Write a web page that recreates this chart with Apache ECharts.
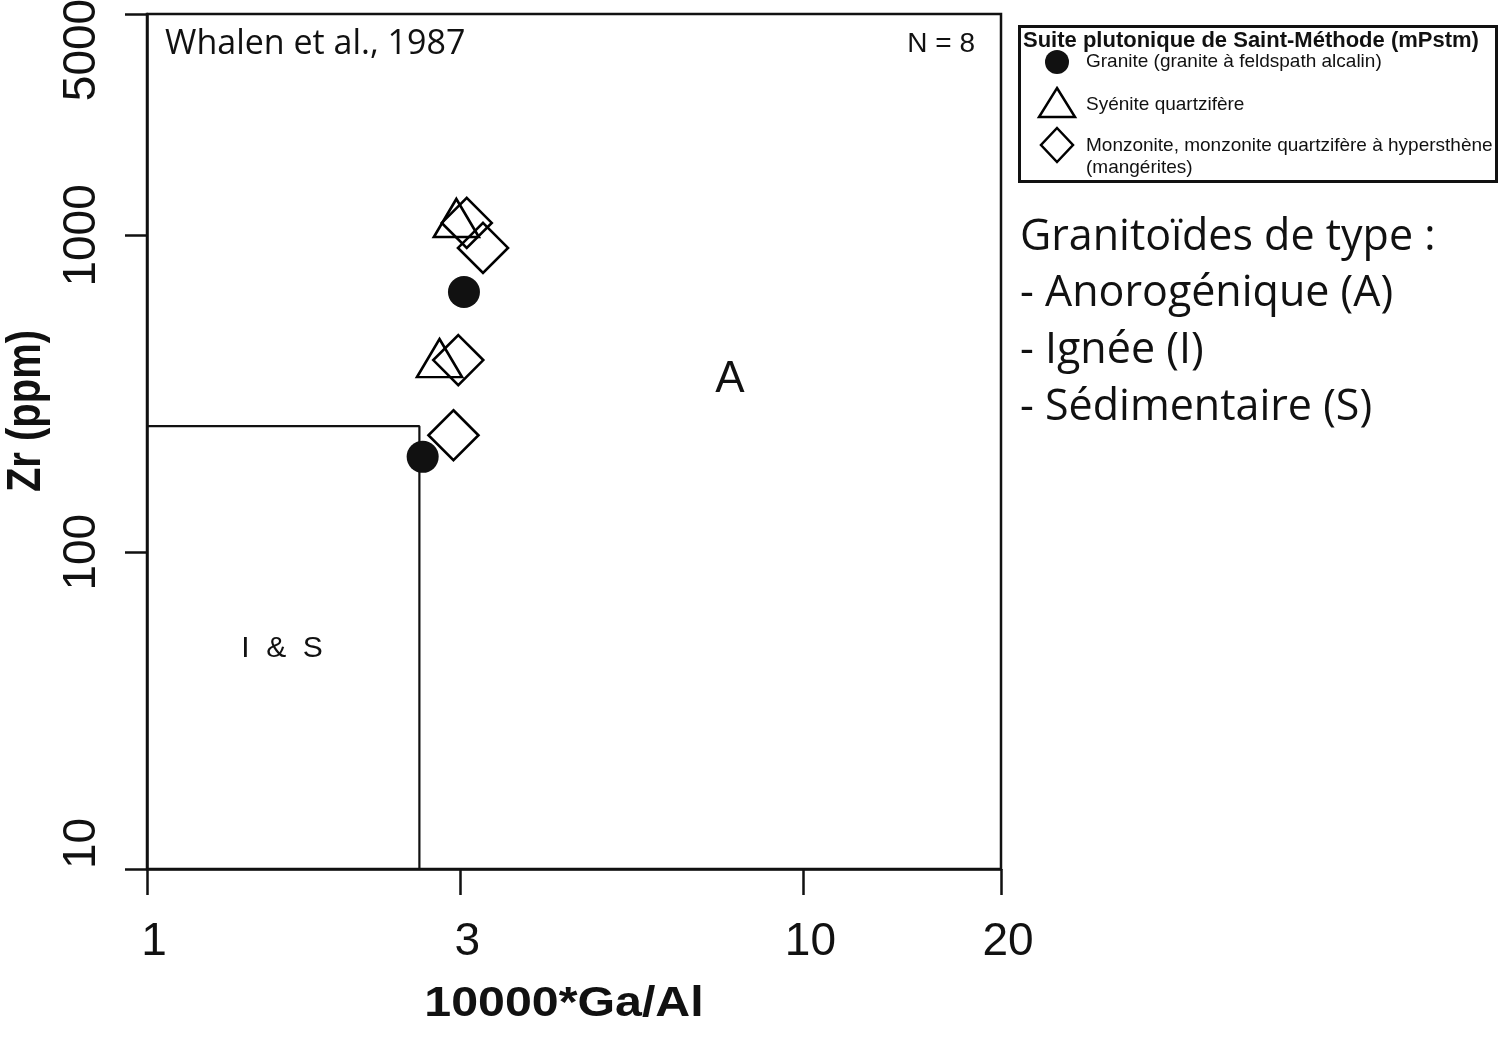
<!DOCTYPE html>
<html>
<head>
<meta charset="utf-8">
<script src="https://cdn.jsdelivr.net/npm/echarts@6/dist/echarts.min.js"></script>
<style>
  html, body { margin: 0; padding: 0; background: #fff; }
  #chart { width: 1499px; height: 1037px; }
</style>
</head>
<body>
<div id="chart"></div>
<script>
// tick values on the two log axes
const xTicks = [1, 3, 10, 20];
const yTicks = [10, 100, 1000, 5000];

// samples : [10000*Ga/Al, Zr (ppm)]
const granite = [[3.04, 663], [2.63, 200]];
const syenite = [[2.96, 1135], [2.79, 410]];
const monzonite = [[3.07, 1095], [3.25, 913], [2.98, 404], [2.93, 234]];

// limite I & S / A (Whalen et al., 1987)
const boundary = [[1, 250], [2.6, 250], [2.6, 10]];

const ARIAL = '"Liberation Sans", Arial, sans-serif';
const MYRIAD = '"Open Sans", "Noto Sans", sans-serif';

let myChart = echarts.init(document.getElementById('chart'));

let option = {
    animation: false,
    backgroundColor: '#fff',
    grid: {
        left: 147,
        top: 14,
        width: 854,
        height: 855,
        outerBoundsMode: 'none',
        containLabel: false,
        show: true,
        borderColor: '#111',
        borderWidth: 2.5,
        backgroundColor: 'transparent'
    },
    xAxis: {
        type: 'log',
        logBase: 10,
        min: 1,
        max: 20,
        axisLine: { show: true, lineStyle: { color: '#111', width: 2.5 } },
        axisTick: {
            show: true,
            customValues: xTicks,
            length: 26,
            lineStyle: { color: '#111', width: 2.5 }
        },
        axisLabel: {
            customValues: xTicks,
            formatter: v => String(v),
            fontSize: 46,
            fontFamily: ARIAL,
            color: '#111',
            padding: [0, 0, 0, 14],
            margin: 50
        },
        splitLine: { show: false },
        minorTick: { show: false }
    },
    yAxis: {
        type: 'log',
        logBase: 10,
        min: 10,
        max: 5000,
        axisLine: { show: true, lineStyle: { color: '#111', width: 2.5 } },
        axisTick: {
            show: true,
            customValues: yTicks,
            length: 22,
            lineStyle: { color: '#111', width: 2.5 }
        },
        axisLabel: {
            customValues: yTicks,
            // le dernier libellé est décalé vers l'intérieur du cadre
            formatter: v => v === yTicks[yTicks.length - 1] ? '{top|' + v + '}' : String(v),
            rich: {
                top: { fontSize: 46, fontFamily: ARIAL, color: '#111', padding: [0, 72, 0, 0] }
            },
            rotate: 90,
            fontSize: 46,
            fontFamily: ARIAL,
            color: '#111',
            alignMinLabel: 'left',
            margin: 42
        },
        splitLine: { show: false },
        minorTick: { show: false }
    },
    series: [
        {
            name: 'limite',
            type: 'line',
            data: boundary,
            symbol: 'none',
            lineStyle: { color: '#111', width: 2.2 },
            silent: true,
            z: 1
        },
        {
            name: 'Granite (granite à feldspath alcalin)',
            type: 'scatter',
            data: granite,
            symbol: 'circle',
            symbolSize: 32,
            itemStyle: { color: '#111', opacity: 1 },
            z: 3
        },
        {
            name: 'Syénite quartzifère',
            type: 'scatter',
            data: syenite,
            symbol: 'triangle',
            symbolSize: [45, 38],
            itemStyle: { color: 'transparent', borderColor: '#000', borderWidth: 2.6, opacity: 1 },
            z: 3
        },
        {
            name: 'Monzonite, monzonite quartzifère à hypersthène (mangérites)',
            type: 'scatter',
            data: monzonite,
            symbol: 'diamond',
            symbolSize: 50,
            itemStyle: { color: 'transparent', borderColor: '#000', borderWidth: 2.6, opacity: 1 },
            z: 3
        }
    ],
    graphic: [
        // noms des axes
        {
            type: 'text', x: 564, y: 1004, scaleX: 1.15,
            style: { text: '10000*Ga/Al', font: 'bold 42px ' + ARIAL, fill: '#111', align: 'center', verticalAlign: 'middle' }
        },
        {
            type: 'text', x: 27, y: 411, rotation: Math.PI / 2, scaleY: 1.2,
            style: { text: 'Zr (ppm)', font: 'bold 40px ' + ARIAL, fill: '#111', align: 'center', verticalAlign: 'middle' }
        },
        // textes dans le diagramme
        {
            type: 'text', x: 165, y: 44,
            style: { text: 'Whalen et al., 1987', font: '34px ' + MYRIAD, fill: '#111', align: 'left', verticalAlign: 'middle' }
        },
        {
            type: 'text', x: 975, y: 44,
            style: { text: 'N = 8', font: '28px ' + ARIAL, fill: '#111', align: 'right', verticalAlign: 'middle' }
        },
        {
            type: 'text', x: 730, y: 380,
            style: { text: 'A', font: '44px ' + ARIAL, fill: '#111', align: 'center', verticalAlign: 'middle' }
        },
        {
            type: 'text', x: 282, y: 649,
            style: { text: 'I  &  S', font: '30px ' + ARIAL, fill: '#111', align: 'center', verticalAlign: 'middle' }
        },
        // légende
        {
            type: 'rect', shape: { x: 1019.5, y: 26.5, width: 477, height: 155 },
            style: { fill: '#fff', stroke: '#111', lineWidth: 3 }
        },
        {
            type: 'text', x: 1023, y: 41,
            style: { text: 'Suite plutonique de Saint-Méthode (mPstm)', font: 'bold 22px ' + ARIAL, fill: '#111', align: 'left', verticalAlign: 'middle' }
        },
        {
            type: 'circle', shape: { cx: 1057, cy: 62, r: 12 },
            style: { fill: '#111' }
        },
        {
            type: 'text', x: 1086, y: 62,
            style: { text: 'Granite (granite à feldspath alcalin)', font: '19px ' + ARIAL, fill: '#111', align: 'left', verticalAlign: 'middle' }
        },
        {
            type: 'polygon', shape: { points: [[1057, 88], [1075, 117], [1039, 117]] },
            style: { fill: 'none', stroke: '#000', lineWidth: 2.5 }
        },
        {
            type: 'text', x: 1086, y: 105,
            style: { text: 'Syénite quartzifère', font: '19px ' + ARIAL, fill: '#111', align: 'left', verticalAlign: 'middle' }
        },
        {
            type: 'polygon', shape: { points: [[1057, 128], [1073, 145], [1057, 162], [1041, 145]] },
            style: { fill: 'none', stroke: '#000', lineWidth: 2.5 }
        },
        {
            type: 'text', x: 1086, y: 146,
            style: { text: 'Monzonite, monzonite quartzifère à hypersthène', font: '19px ' + ARIAL, fill: '#111', align: 'left', verticalAlign: 'middle' }
        },
        {
            type: 'text', x: 1086, y: 168,
            style: { text: '(mangérites)', font: '19px ' + ARIAL, fill: '#111', align: 'left', verticalAlign: 'middle' }
        },
        // types de granitoïdes
        {
            type: 'text', x: 1020, y: 238,
            style: { text: 'Granitoïdes de type :', font: '43px ' + MYRIAD, fill: '#111', align: 'left', verticalAlign: 'middle' }
        },
        {
            type: 'text', x: 1020, y: 294,
            style: { text: '- Anorogénique (A)', font: '43px ' + MYRIAD, fill: '#111', align: 'left', verticalAlign: 'middle' }
        },
        {
            type: 'text', x: 1020, y: 351,
            style: { text: '- Ignée (I)', font: '43px ' + MYRIAD, fill: '#111', align: 'left', verticalAlign: 'middle' }
        },
        {
            type: 'text', x: 1020, y: 408,
            style: { text: '- Sédimentaire (S)', font: '43px ' + MYRIAD, fill: '#111', align: 'left', verticalAlign: 'middle' }
        }
    ]
};

myChart.setOption(option);
</script>
</body>
</html>
